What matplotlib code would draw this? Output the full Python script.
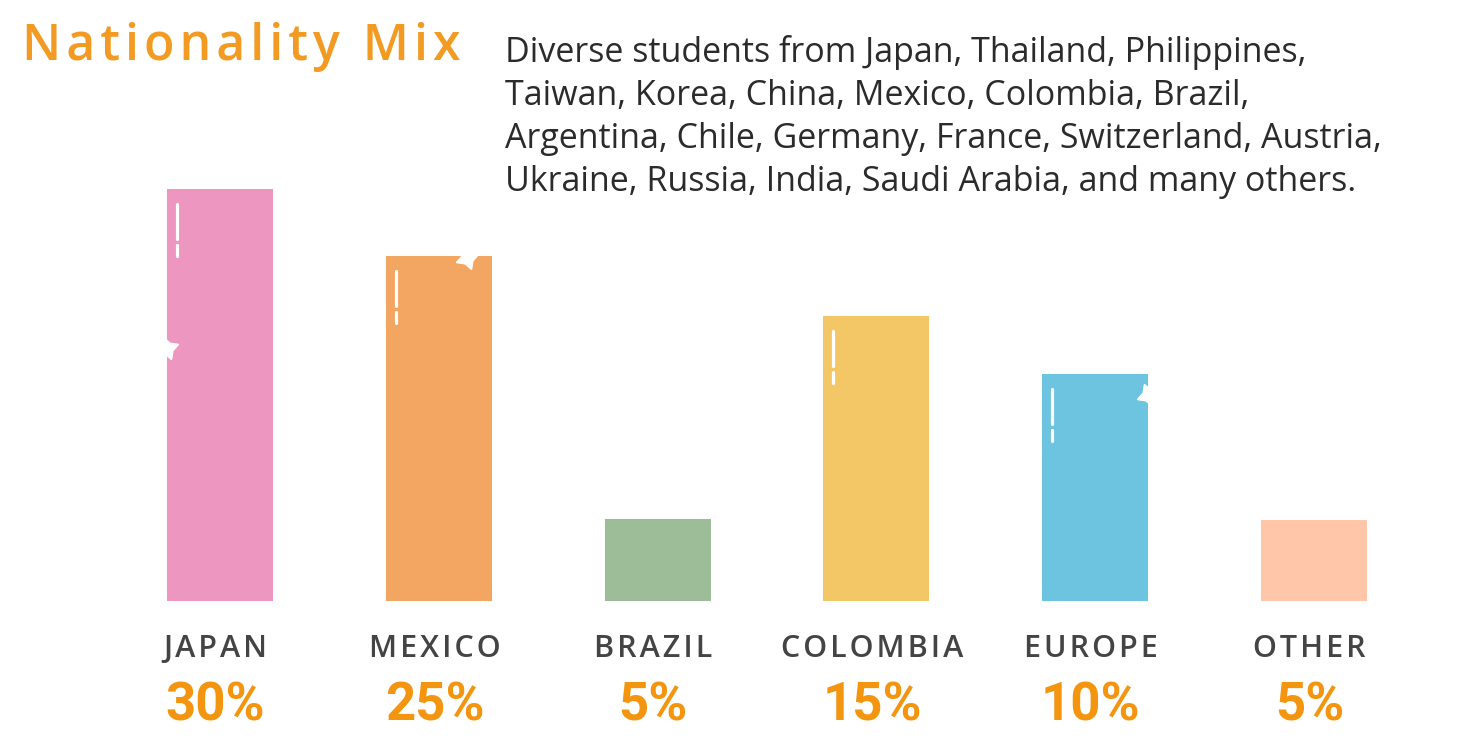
import matplotlib
matplotlib.use("Agg")
import matplotlib.pyplot as plt

# data
categories = ["JAPAN", "MEXICO", "BRAZIL", "COLOMBIA", "EUROPE", "OTHER"]
share_pct = [30, 25, 5, 15, 10, 5]
# drawn bar heights (infographic, not proportional to the shares)
bar_height = [41.2, 34.5, 8.2, 28.5, 22.7, 8.1]
bar_colors = ["#EC96C0", "#F3A662", "#9DBD98", "#F3C766", "#6CC4E0", "#FFC6A9"]
has_dash = [True, True, False, True, True, False]

title = "Nationality Mix"
blurb = ["Diverse students from Japan, Thailand, Philippines,",
         "Taiwan, Korea, China, Mexico, Colombia, Brazil,",
         "Argentina, Chile, Germany, France, Switzerland, Austria,",
         "Ukraine, Russia, India, Saudi Arabia, and many others."]

ORANGE = "#F39A22"
HAIR = "\u200a"


def spaced(s, n=1):
    return (HAIR * n).join(s)


W, H = 1468, 743
fig = plt.figure(figsize=(W / 100, H / 100), dpi=100)

# axes: 1 y unit = 10 px, baseline at 601 px from top
base = 601
ax = fig.add_axes([0, (H - base) / H, 1, base / H])
step = 218.8
x0 = 220
ax.set_xlim(-x0 / step, (W - x0) / step)
ax.set_ylim(0, base / 10)
ax.axis("off")

xs = list(range(len(categories)))
bw = 106 / step
ax.bar(xs, bar_height, width=bw, color=bar_colors, zorder=1)

# white highlight dashes near the top-left of some bars
for x, h, d in zip(xs, bar_height, has_dash):
    if not d:
        continue
    xd = x - bw / 2 + 10 / step
    ax.plot([xd, xd], [h - 1.5, h - 5.0], color="white", lw=2.3,
            solid_capstyle="round", zorder=2)
    ax.plot([xd, xd], [h - 5.6, h - 6.7], color="white", lw=2.3,
            solid_capstyle="round", zorder=2)

# sparkles nibbling at a few bar edges
spark = dict(marker=(4, 1, 20), ms=17, color="white", mec="white",
             zorder=3, clip_on=False)
ax.plot(xs[0] - bw / 2, bar_height[0] - 15.9, **spark)
ax.plot(xs[1] + bw / 2 - 25 / step, bar_height[1] - 0.2, **spark)
ax.plot(xs[4] + bw / 2, bar_height[4] - 2.1, **spark)

for x, c, p in zip(xs, categories, share_pct):
    ax.text(x - 0.02, -4.8, spaced(c, 1), ha="center", va="center",
            fontsize=22, color="#444444", family=["Open Sans", "DejaVu Sans"],
            fontweight="semibold", clip_on=False)
    ax.text(x - 0.02, -10.5, f"{p}%", ha="center", va="center",
            fontsize=38, color="#F3950F", family="Roboto",
            fontweight="bold", clip_on=False)

fig.text(22 / W, 1 - 47 / H, spaced(title, 1), ha="left", va="center",
         fontsize=36, color=ORANGE, family=["Open Sans", "DejaVu Sans"],
         fontweight="semibold")

for i, line in enumerate(blurb):
    fig.text(505 / W, 1 - (62 + 43 * i) / H, line, ha="left", va="baseline",
             fontsize=24.5, color="#2B2B2B", family="Open Sans")

fig.savefig("out.png", dpi=100, facecolor="white")
